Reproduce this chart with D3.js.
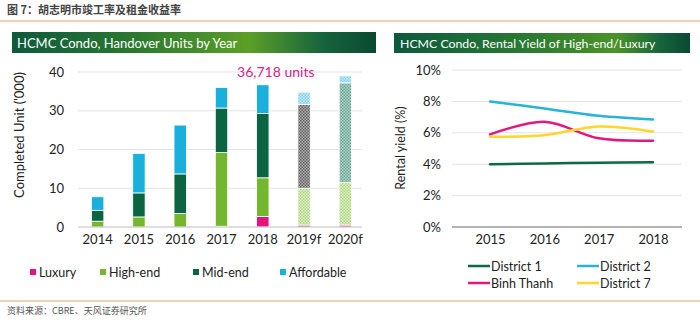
<!DOCTYPE html>
<html>
<head>
<meta charset="utf-8">
<script src="https://cdn.jsdelivr.net/npm/d3@7"></script>
<style>
  body { margin: 0; background: #fff; }
  svg { display: block; font-family: Lato, "Noto Sans", sans-serif; }
</style>
</head>
<body>
<svg id="chart" width="700" height="321"></svg>
<script>
// handover units ('000) by segment
var years = ["2014", "2015", "2016", "2017", "2018", "2019f", "2020f"];
var forecastYears = ["2019f", "2020f"];
var segments = ["Luxury", "High-end", "Mid-end", "Affordable"];
var luxury     = [0,   0,    0,    0.2,  2.7,  0.5,  0.5];
var highEnd    = [1.5, 2.6,  3.5,  19.0, 10.0, 9.5,  11.0];
var midEnd     = [2.8, 6.2,  10.2, 11.5, 16.6, 21.6, 25.7];
var affordable = [3.5, 10.2, 12.6, 5.3,  7.4,  3.2,  1.8];
var unitTicks = [0, 10, 20, 30, 40];
var totalLabel = "36,718 units";

// rental yield (%) by district
var yieldYears = ["2015", "2016", "2017", "2018"];
var districts = ["District 1", "District 2", "Binh Thanh", "District 7"];
var district1 = [4.0, 4.05, 4.1, 4.12];
var district2 = [8.0, 7.55, 7.08, 6.85];
var binhThanh = [5.9, 6.7, 5.65, 5.5];
var district7 = [5.75, 5.85, 6.4, 6.08];
var yieldTicks = [0, 2, 4, 6, 8, 10];

var segColor = { "Luxury": "#e4137f", "High-end": "#74b72e", "Mid-end": "#0b6542", "Affordable": "#1bb0dc" };
var distColor = { "District 1": "#0d6a47", "District 2": "#2ab3d9", "Binh Thanh": "#e2187f", "District 7": "#ffd62a" };

var svg = d3.select("#chart");
var defs = svg.append("defs");

// dotted fills for the forecast bars
function dotPattern(id, bg, dot) {
    var p = defs.append("pattern").attr("id", id)
        .attr("width", 3).attr("height", 3).attr("patternUnits", "userSpaceOnUse");
    p.append("rect").attr("width", 3).attr("height", 3).attr("fill", bg);
    p.append("rect").attr("width", 1.5).attr("height", 1.5).attr("fill", dot);
    p.append("rect").attr("x", 1.5).attr("y", 1.5).attr("width", 1.5).attr("height", 1.5).attr("fill", dot);
}
dotPattern("fc-Luxury", "#f04fa5", "#e4137f");
dotPattern("fc-High-end", "#e4f2cf", "#a9d67a");
dotPattern("fc-Affordable", "#c9ecf7", "#7fcfe8");
dotPattern("fc-Mid-end-2019f", "#b0b0b0", "#606060");
dotPattern("fc-Mid-end-2020f", "#b5d6cc", "#63a493");

function headerGrad(id, stops) {
    var g = defs.append("linearGradient").attr("id", id);
    stops.forEach(function (s) {
        g.append("stop").attr("offset", s[0]).attr("stop-color", s[1]);
    });
}
headerGrad("hdrL", [["0", "#0c5a3c"], ["0.35", "#2c7a30"], ["0.65", "#5c9f27"], ["0.85", "#16653c"], ["1", "#0a4a30"]]);
headerGrad("hdrR", [["0", "#0c5a3c"], ["0.45", "#2a7a31"], ["0.75", "#4b9329"], ["0.9", "#16643c"], ["1", "#0a4a30"]]);

// page title, rules, footer
svg.append("text").attr("x", 7).attr("y", 14)
    .attr("font-family", "'Noto Sans CJK SC', sans-serif").attr("font-weight", "bold")
    .attr("font-size", 11).attr("fill", "#444").text("图 7：胡志明市竣工率及租金收益率");
svg.append("line").attr("x1", 0).attr("x2", 700).attr("y1", 21).attr("y2", 21)
    .attr("stroke", "#e3a46c").attr("stroke-width", 1.2);
svg.append("line").attr("x1", 0).attr("x2", 700).attr("y1", 301).attr("y2", 301)
    .attr("stroke", "#e3a46c").attr("stroke-width", 1.2);
svg.append("text").attr("x", 7).attr("y", 314)
    .attr("font-family", "'Noto Sans CJK SC', sans-serif")
    .attr("font-size", 9).attr("fill", "#555").text("资料来源：CBRE、天风证券研究所");

// header bars
svg.append("rect").attr("x", 12).attr("y", 32).attr("width", 364).attr("height", 21).attr("fill", "url(#hdrL)");
svg.append("text").attr("x", 17).attr("y", 47.5).attr("fill", "#fff").attr("font-size", 13)
    .text("HCMC Condo, Handover Units by Year");
svg.append("rect").attr("x", 394).attr("y", 33).attr("width", 296).attr("height", 20).attr("fill", "url(#hdrR)");
svg.append("text").attr("x", 400).attr("y", 48).attr("fill", "#fff").attr("font-size", 12.3)
    .text("HCMC Condo, Rental Yield of High-end/Luxury");

// ---- left: stacked bars ----
var bx = d3.scaleBand().domain(years).range([77, 366]).paddingInner(0.7).paddingOuter(0.35);
var by = d3.scaleLinear().domain([0, 40]).range([227, 72]);

var left = svg.append("g");
left.append("g").selectAll("line").data(unitTicks.slice(1)).join("line")
    .attr("x1", 78).attr("x2", 362)
    .attr("y1", function (d) { return by(d); }).attr("y2", function (d) { return by(d); })
    .attr("stroke", "#e3e3e3").attr("stroke-width", 1);

var rows = years.map(function (y, i) {
    return { year: y, "Luxury": luxury[i], "High-end": highEnd[i], "Mid-end": midEnd[i], "Affordable": affordable[i] };
});
var stacked = d3.stack().keys(segments)(rows);

left.append("g").selectAll("g").data(stacked).join("g")
    .each(function (layer) {
        d3.select(this).selectAll("rect").data(layer).join("rect")
            .attr("x", function (d) { return bx(d.data.year); })
            .attr("width", bx.bandwidth())
            .attr("y", function (d) { return by(d[1]); })
            .attr("height", function (d) { return Math.max(0, by(d[0]) - by(d[1])); })
            .attr("fill", function (d) {
                if (forecastYears.indexOf(d.data.year) < 0) return segColor[layer.key];
                if (layer.key === "Mid-end") return "url(#fc-Mid-end-" + d.data.year + ")";
                return "url(#fc-" + layer.key + ")";
            })
            .attr("stroke", "#fff").attr("stroke-width", 0.8);
    });

left.append("line").attr("x1", 78).attr("x2", 362).attr("y1", by(0)).attr("y2", by(0))
    .attr("stroke", "#bdbdbd").attr("stroke-width", 1.2);

var byAxis = left.append("g").attr("transform", "translate(64,0)")
    .call(d3.axisLeft(by).tickValues(unitTicks).tickSize(0).tickPadding(0));
byAxis.select(".domain").remove();
byAxis.selectAll("text").attr("font-size", 13).attr("fill", "#222").attr("font-family", "Lato, sans-serif");

var bxAxis = left.append("g").attr("transform", "translate(0," + (by(0) + 8) + ")")
    .call(d3.axisBottom(bx).tickSize(0).tickPadding(0));
bxAxis.select(".domain").remove();
bxAxis.selectAll("text").attr("font-size", 13).attr("fill", "#222").attr("font-family", "Lato, sans-serif");

left.append("text").attr("transform", "translate(24,135) rotate(-90)")
    .attr("text-anchor", "middle").attr("font-size", 13).attr("fill", "#222")
    .text("Completed Unit ('000)");

// total label above 2018
left.append("text").attr("x", bx("2018") + bx.bandwidth() / 2 + 13).attr("y", by(40) + 5)
    .attr("text-anchor", "middle").attr("font-size", 14).attr("fill", "#e0228a")
    .text(totalLabel);

var legL = left.append("g").selectAll("g").data(segments).join("g")
    .attr("transform", function (d, i) { return "translate(" + [30, 100, 193, 280][i] + ",272)"; });
legL.append("rect").attr("x", 0).attr("y", -3).attr("width", 6).attr("height", 6)
    .attr("fill", function (d) { return segColor[d]; });
legL.append("text").attr("x", 9).attr("y", 4.5).attr("font-size", 12.5).attr("fill", "#222")
    .text(function (d) { return d; });

// ---- right: yield lines ----
var lx = d3.scalePoint().domain(yieldYears).range([490, 653]);
var ly = d3.scaleLinear().domain([0, 10]).range([227, 70]);

var right = svg.append("g");
right.append("g").selectAll("line").data(yieldTicks.slice(1)).join("line")
    .attr("x1", 452).attr("x2", 682)
    .attr("y1", function (d) { return ly(d); }).attr("y2", function (d) { return ly(d); })
    .attr("stroke", "#e3e3e3").attr("stroke-width", 1);
right.append("line").attr("x1", 452).attr("x2", 682).attr("y1", ly(0)).attr("y2", ly(0))
    .attr("stroke", "#999").attr("stroke-width", 1.5);

var lyAxis = right.append("g").attr("transform", "translate(441,0)")
    .call(d3.axisLeft(ly).tickValues(yieldTicks).tickFormat(function (d) { return d + "%"; })
        .tickSize(0).tickPadding(0));
lyAxis.select(".domain").remove();
lyAxis.selectAll("text").attr("font-size", 13).attr("fill", "#222").attr("font-family", "Lato, sans-serif");

var lxAxis = right.append("g").attr("transform", "translate(0," + (ly(0) + 8) + ")")
    .call(d3.axisBottom(lx).tickSize(0).tickPadding(0));
lxAxis.select(".domain").remove();
lxAxis.selectAll("text").attr("font-size", 13).attr("fill", "#222").attr("font-family", "Lato, sans-serif");

right.append("text").attr("transform", "translate(405,148) rotate(-90)")
    .attr("text-anchor", "middle").attr("font-size", 12.5).attr("fill", "#222")
    .text("Rental yield (%)");

var series = [district1, district2, binhThanh, district7];
var line = d3.line()
    .x(function (d, i) { return lx(yieldYears[i]); })
    .y(function (d) { return ly(d); })
    .curve(d3.curveCatmullRom.alpha(0.5));

right.append("g").selectAll("path").data(series).join("path")
    .attr("d", function (d) { return line(d); })
    .attr("fill", "none")
    .attr("stroke", function (d, i) { return distColor[districts[i]]; })
    .attr("stroke-width", 2.5).attr("stroke-linecap", "round");

var legR = right.append("g").selectAll("g").data(districts).join("g")
    .attr("transform", function (d, i) { return "translate(" + (i % 2 ? 577 : 468) + "," + (i < 2 ? 266 : 283) + ")"; });
legR.append("line").attr("x1", 0).attr("x2", 22).attr("y1", 0).attr("y2", 0)
    .attr("stroke", function (d) { return distColor[d]; }).attr("stroke-width", 2.5);
legR.append("text").attr("x", 23).attr("y", 4.5).attr("font-size", 12.5).attr("fill", "#222")
    .text(function (d) { return d; });
</script>
</body>
</html>
